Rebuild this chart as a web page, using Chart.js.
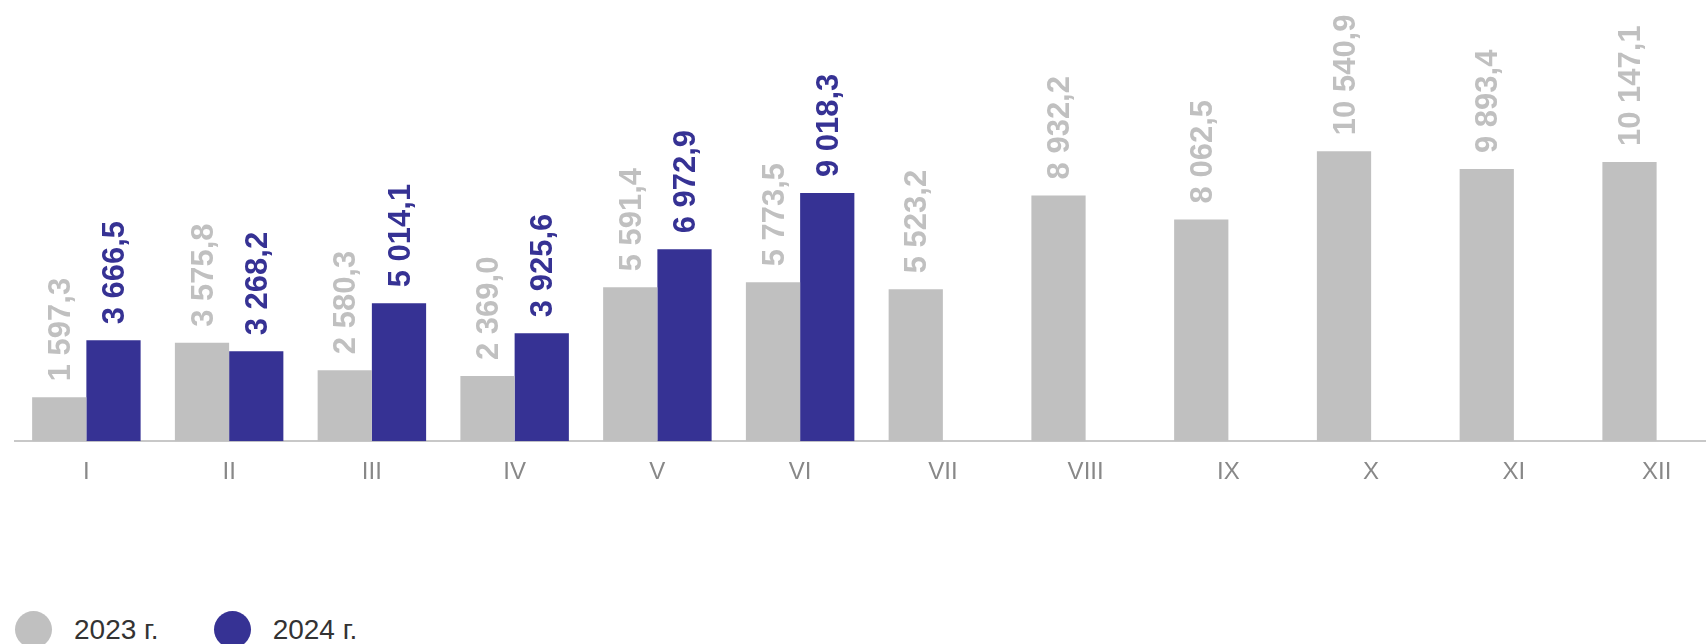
<!DOCTYPE html>
<html>
<head>
<meta charset="utf-8">
<script src="https://cdn.jsdelivr.net/npm/chart.js@4"></script>
<style>
    body { margin: 0; background: #fff; font-family: "Liberation Sans", Arial, sans-serif; }
    #wrap { position: relative; width: 1706px; height: 644px; overflow: hidden; }
    #box { position: absolute; left: 0; top: 0; width: 1728px; height: 505px; }
    #legend { position: absolute; left: 15px; top: 611px; display: flex; align-items: center; }
    .item { display: flex; align-items: center; margin-right: 55px; }
    .dot { width: 37px; height: 37px; border-radius: 50%; margin-right: 22px; }
    .txt { font-size: 28px; color: #333; }
</style>
</head>
<body>
<div id="wrap">
    <div id="box"><canvas id="chart"></canvas></div>
    <div id="legend"></div>
</div>
<script>
// === DATOS ===
const meses = ['I', 'II', 'III', 'IV', 'V', 'VI', 'VII', 'VIII', 'IX', 'X', 'XI', 'XII'];
const valores2023 = [1597.3, 3575.8, 2580.3, 2369.0, 5591.4, 5773.5, 5523.2, 8932.2, 8062.5, 10540.9, 9893.4, 10147.1];
const valores2024 = [3666.5, 3268.2, 5014.1, 3925.6, 6972.9, 9018.3, null, null, null, null, null, null];
const nombres = ['2023 г.', '2024 г.'];
const colores = ['#c0c0c0', '#363294'];

// formato "10 540,9"
function formatear(v) {
    const partes = v.toFixed(1).split('.');
    const entero = partes[0].replace(/\B(?=(\d{3})+(?!\d))/g, ' ');
    return entero + ',' + partes[1];
}

// etiquetas verticales encima de cada barra
const etiquetas = {
    id: 'etiquetas',
    afterDatasetsDraw(chart) {
        const ctx = chart.ctx;
        chart.data.datasets.forEach((ds, i) => {
            const meta = chart.getDatasetMeta(i);
            meta.data.forEach((bar, j) => {
                const v = ds.data[j];
                if (v === null || v === undefined) return;
                ctx.save();
                ctx.translate(bar.x, bar.y - 16);
                ctx.rotate(-Math.PI / 2);
                ctx.font = 'bold 31px "Liberation Sans", Arial, sans-serif';
                ctx.fillStyle = colores[i];
                ctx.textAlign = 'left';
                ctx.textBaseline = 'middle';
                ctx.fillText(formatear(v), 0, 2);
                ctx.restore();
            });
        });
    }
};

new Chart(document.getElementById('chart'), {
    type: 'bar',
    data: {
        labels: meses,
        datasets: [
            { label: nombres[0], data: valores2023, backgroundColor: colores[0], barPercentage: 1.0, categoryPercentage: 0.76 },
            { label: nombres[1], data: valores2024, backgroundColor: colores[1], barPercentage: 1.0, categoryPercentage: 0.76 }
        ]
    },
    options: {
        responsive: true,
        maintainAspectRatio: false,
        animation: false,
        layout: { padding: { left: 15, right: 0, top: 1, bottom: 1 } },
        plugins: {
            legend: { display: false },
            tooltip: { enabled: false }
        },
        scales: {
            x: {
                grid: { display: false, drawTicks: false },
                border: { display: true, color: '#c8c8c8', width: 2 },
                ticks: {
                    color: '#888888',
                    padding: 17,
                    font: { size: 24, family: '"Liberation Sans", Arial, sans-serif' }
                }
            },
            y: {
                display: false,
                min: 0,
                max: 16000
            }
        }
    },
    plugins: [etiquetas]
});

// leyenda
const leyenda = document.getElementById('legend');
nombres.forEach((n, i) => {
    const item = document.createElement('div');
    item.className = 'item';
    item.innerHTML = `<span class="dot" style="background:${colores[i]}"></span><span class="txt">${n}</span>`;
    leyenda.appendChild(item);
});
</script>
</body>
</html>
